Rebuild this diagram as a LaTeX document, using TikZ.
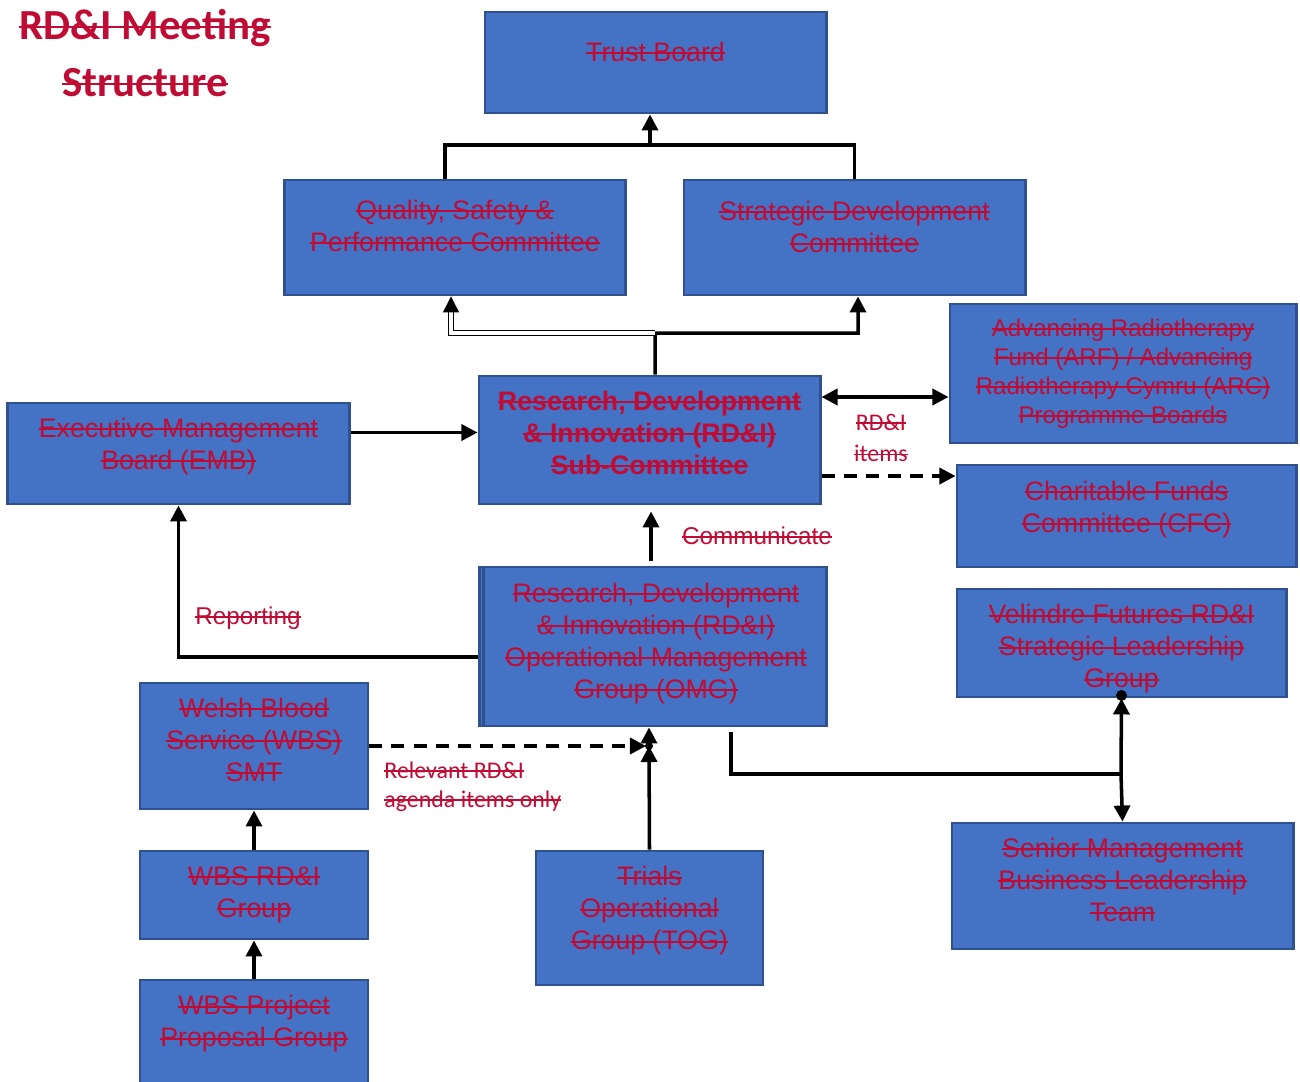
\documentclass[tikz,border=0pt]{standalone}
\usepackage{fontspec}
\setmainfont{Liberation Sans}
\newfontfamily\calibrifont{Carlito}
\usetikzlibrary{arrows.meta,positioning,calc}
\definecolor{boxblue}{RGB}{68,114,196}
\definecolor{boxedge}{RGB}{47,82,143}
\definecolor{txtred}{RGB}{192,12,52}
\newsavebox\strikebox
\newcommand{\so}[1]{\sbox\strikebox{#1}\rlap{\usebox\strikebox}\rule[0.27em]{\wd\strikebox}{0.55pt}}
\tikzset{
  org box/.style    = {rectangle, draw=boxedge, line width=0.8pt, fill=boxblue, inner sep=0pt},
  box text/.style   = {text=txtred, align=center, inner sep=0pt,
                       font=\fontsize{7.6}{9.1}\selectfont},
  flow/.style       = {line width=1pt},
  flow arrow/.style = {-{Triangle[length=1.6mm,width=1.6mm]}, line width=1pt},
  flow both/.style  = {{Triangle[length=1.6mm,width=1.6mm]}-{Triangle[length=1.6mm,width=1.6mm]}, line width=1pt},
  flow dashed/.style= {-{Triangle[length=1.6mm,width=1.6mm]}, line width=1pt, dash pattern=on 1.3mm off 0.9mm},
  flow double/.style= {-{Triangle[length=1.6mm,width=1.6mm]}, line width=0.35pt, double, double distance=0.9pt},
  join dot/.style   = {circle, fill=black, inner sep=0pt, minimum size=1.1mm},
  note/.style       = {text=txtred, font=\fontsize{6.9}{8.3}\selectfont},
  small note/.style = {text=txtred, font=\calibrifont\fontsize{6.8}{8.3}\selectfont},
  title text/.style = {text=txtred, align=center, font=\calibrifont\bfseries\fontsize{12.2}{16.2}\selectfont},
}
\begin{document}
\begin{tikzpicture}[x=0.01cm, y=-0.01cm]
  \useasboundingbox[fill=white] (0,0) rectangle (1300,1081);

  % title
  \node[title text] (heading) at (145,53) {\so{RD\&I Meeting}\\\so{Structure}};

  % boxes
  \node[org box, minimum width=3.41cm, minimum height=1.01cm,
        label={[box text, yshift=1.1mm]center:{\so{Trust Board}}}] (trust) at (655.5,62.5) {};
  \node[org box, minimum width=3.40cm, minimum height=1.15cm,
        label={[box text, yshift=1.15mm]center:{\so{Quality, Safety \&}\\\so{Performance Committee}}}] (qsp) at (455,237.5) {};
  \node[org box, minimum width=3.41cm, minimum height=1.15cm,
        label={[box text, yshift=1.1mm]center:{\so{Strategic Development}\\\so{Committee}}}] (sdc) at (854.5,237.5) {};
  \node[org box, minimum width=3.46cm, minimum height=1.39cm,
        label={[box text, font=\fontsize{6.85}{8.25}\selectfont]center:{\so{Advancing Radiotherapy}\\\so{Fund (ARF) / Advancing}\\\so{Radiotherapy Cymru (ARC)}\\\so{Programme Boards}}}] (arf) at (1123,373.5) {};
  \node[org box, minimum width=3.41cm, minimum height=1.28cm,
        label={[box text, yshift=0.7mm, font=\bfseries\fontsize{7.6}{9.1}\selectfont]center:{\so{Research, Development}\\\so{\& Innovation (RD\&I)}\\\so{Sub-Committee}}}] (rdi) at (649.5,440) {};
  \node[org box, minimum width=3.41cm, minimum height=1.01cm,
        label={[box text, yshift=0.7mm]center:{\so{Executive Management}\\\so{Board (EMB)}}}] (emb) at (178.5,453.5) {};
  \node[org box, minimum width=3.39cm, minimum height=1.02cm,
        label={[box text, yshift=0.65mm]center:{\so{Charitable Funds}\\\so{Committee (CFC)}}}] (cfc) at (1126.5,516) {};
  \node[org box, minimum width=3.29cm, minimum height=1.08cm,
        label={[box text, yshift=-0.6mm]center:{\so{Velindre Futures RD\&I}\\\so{Strategic Leadership}\\\so{Group}}}] (vf) at (1121.5,643) {};
  \node[org box, minimum width=3.46cm, minimum height=1.59cm,
        label={[box text, xshift=0.3mm, yshift=0.3mm]center:{\so{Research, Development}\\\so{\& Innovation (RD\&I)}\\\so{Operational Management}\\\so{Group (OMG)}}}] (omg) at (653,646.5) {};
  \draw[draw=boxedge, line width=0.8pt] ([xshift=0.5mm]omg.north west) -- ([xshift=0.5mm]omg.south west);
  \node[org box, minimum width=2.28cm, minimum height=1.26cm,
        label={[box text, yshift=0.6mm]center:{\so{Welsh Blood}\\\so{Service (WBS)}\\\so{SMT}}}] (wbs) at (254,746) {};
  \node[org box, minimum width=2.28cm, minimum height=0.88cm,
        label={[box text]center:{\so{WBS RD\&I}\\\so{Group}}}] (wrdi) at (254,895) {};
  \node[org box, minimum width=2.28cm, minimum height=1.14cm,
        label={[box text, yshift=1.3mm]center:{\so{WBS Project}\\\so{Proposal Group}}}] (wpp) at (254,1037) {};
  \node[org box, minimum width=2.27cm, minimum height=1.34cm,
        label={[box text, yshift=0.7mm]center:{\so{Trials}\\\so{Operational}\\\so{Group (TOG)}}}] (tog) at (649.5,918) {};
  \node[org box, minimum width=3.41cm, minimum height=1.26cm,
        label={[box text, yshift=0.6mm]center:{\so{Senior Management}\\\so{Business Leadership}\\\so{Team}}}] (smb) at (1122.5,886) {};

  % top tree
  \coordinate (top join) at (650,145);
  \draw[flow] ([xshift=-1mm]qsp.north) |- (top join) -| (sdc.north);
  \draw[flow arrow] (top join) -- (top join |- trust.south);

  % sub-committee upwards
  \coordinate (upper split) at (655,333);
  \draw[flow arrow] ([xshift=0.55mm]rdi.north) -- (upper split) -| ([xshift=0.35mm]sdc.south);
  \draw[flow double] (upper split) -| ([xshift=-0.4mm]qsp.south);

  % sideways links of the sub-committee
  \draw[flow arrow] ([yshift=2.1mm]emb.east) -- ([yshift=2.1mm]emb.east -| rdi.west);
  \draw[flow both] ([yshift=4.3mm]rdi.east) -- ([yshift=4.3mm]rdi.east -| arf.west);
  \draw[flow dashed] ([yshift=-3.6mm]rdi.east) -- ([yshift=-3.6mm]rdi.east -| cfc.west);
  \node[small note, align=center, font=\calibrifont\fontsize{6.8}{9}\selectfont] (items note) at (881,438) {\so{RD\&I}\\\so{items}};

  % operational group
  \draw[flow arrow] ([xshift=-0.2mm,yshift=0.5mm]omg.north) -- ([xshift=-0.2mm,yshift=-0.6mm]omg.north |- rdi.south);
  \node[note] (communicate) at (757,536) {\so{Communicate}};
  \draw[flow arrow] ([yshift=-1.05mm]omg.west) -| (emb.south);
  \node[note] (reporting) at (248,618) {\so{Reporting}};

  % WBS and TOG into OMG
  \coordinate (hub) at (649,746);
  \draw[flow dashed] (wbs.east) -- ([xshift=-0.3mm]hub);
  \node[join dot, minimum size=0.8mm] at (hub) {};
  \draw[flow arrow] (hub) -- (hub |- omg.south);
  \draw[flow arrow] (tog.north) -- (hub);
  \node[small note, align=left, anchor=west] (relevant note) at (372,787) {\so{Relevant RD\&I}\\\so{agenda items only}};
  \draw[flow arrow] (wrdi.north) -- (wbs.south);
  \draw[flow arrow] (wpp.north) -- (wrdi.south);

  % OMG to Velindre Futures and senior team
  \coordinate (side split) at (1121,774);
  \draw[flow] ([xshift=7.8mm,yshift=-0.5mm]omg.south) |- (side split);
  \draw[flow arrow] (side split) -- (vf.south);
  \node[join dot] at ([yshift=0.3mm]vf.south) {};
  \draw[flow arrow] (side split) -- (smb.north);
\end{tikzpicture}
\end{document}
